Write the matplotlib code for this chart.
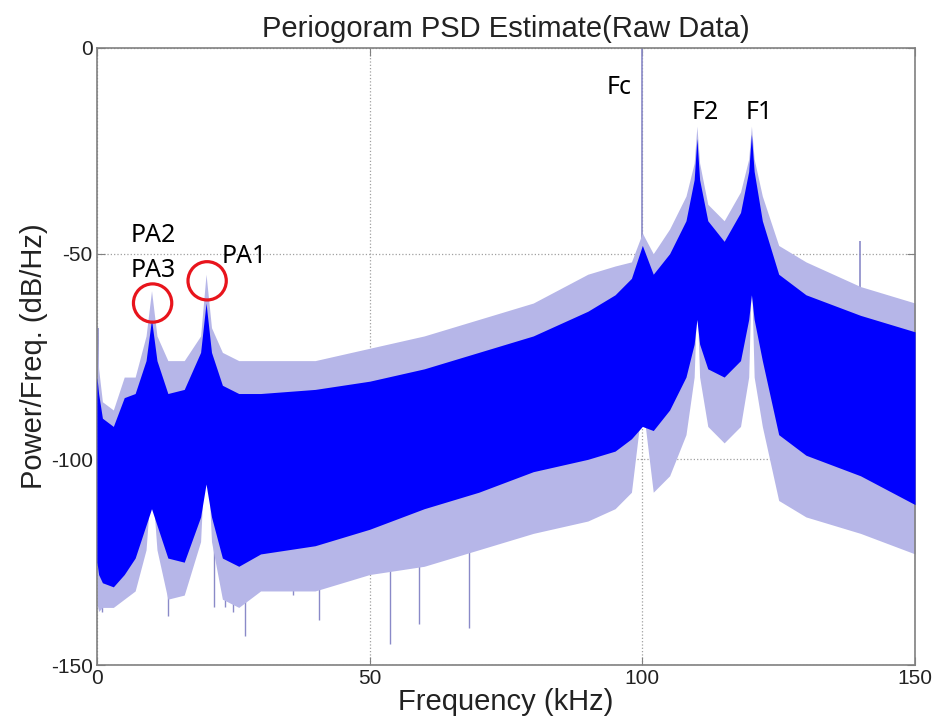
import numpy as np
from matplotlib import pyplot as plt

plt.rcParams['axes.unicode_minus'] = False

# envelope of the periodogram (kHz, dB/Hz)
freq = [0, 0.3, 1, 3, 5, 7, 9, 10, 11, 13, 16, 19, 20, 21, 23, 26, 30, 40, 50, 60,
        70, 80, 90, 95, 98, 100, 102, 105, 108, 109.5, 110, 110.5, 112, 115, 118,
        119.5, 120, 120.5, 122, 125, 130, 140, 150]
dense_hi = [-80, -84, -90, -92, -85, -84, -76, -66, -76, -84, -83, -74, -62, -74, -82, -84, -84, -83, -81, -78,
            -74, -70, -64, -60, -56, -48, -55, -50, -42, -32, -22, -32, -42, -47, -40,
            -30, -21, -30, -42, -55, -60, -65, -69]
dense_lo = [-125, -128, -130, -131, -128, -124, -116, -112, -116, -124, -125, -114, -106, -114, -124, -126, -123, -121, -117, -112,
            -108, -103, -100, -98, -95, -92, -93, -88, -80, -72, -66, -72, -78, -80, -76,
            -66, -60, -66, -76, -94, -99, -104, -111]
spike_hi = [-68, -78, -86, -88, -80, -80, -70, -59, -70, -76, -76, -70, -55, -68, -74, -76, -76, -76, -73, -70,
            -66, -62, -55, -53, -52, -45, -50, -44, -36, -28, -19, -28, -38, -42, -35,
            -27, -19, -27, -36, -48, -52, -58, -62]
spike_lo = [-135, -137, -136, -136, -134, -132, -122, -104, -122, -134, -133, -120, -92, -120, -134, -136, -132, -132, -128, -126,
            -122, -118, -115, -112, -108, -86, -108, -104, -94, -80, -60, -80, -92, -96, -92,
            -80, -55, -80, -92, -110, -114, -118, -123]

# single deep / tall lines
down_f = [0.9, 13, 21.5, 23.4, 25, 27.2, 36, 40.7, 53.8, 59, 68.3]
down_db = [-137, -138, -136, -136, -137, -143, -133, -139, -145, -140, -141]
up_f = [0.1, 100, 140]
up_db = [-68, 0, -47]

circ_f = [10.2, 20.2]
circ_db = [-62, -56.6]

labels = ["PA2", "PA3", "PA1", "Fc", "F2", "F1"]
lab_f = [10.3, 10.3, 27.0, 95.7, 111.5, 121.4]
lab_db = [-45.5, -54.2, -50.6, -9.5, -15.6, -15.8]

fig = plt.figure(figsize=(9.36, 7.26), dpi=100)
ax = fig.add_axes([0.1036, 0.084, 0.874, 0.8499])

ax.vlines(down_f, down_db, -110, color='#8a8ac8', lw=1.0, zorder=1)
ax.vlines(up_f, -80, up_db, color='#8a8ac8', lw=1.2, zorder=1)
ax.fill_between(freq, spike_lo, spike_hi, color='#b6b6e8', lw=0, zorder=2)
ax.fill_between(freq, dense_lo, dense_hi, color='#0000ff', lw=0, zorder=3)

ax.scatter(circ_f, circ_db, s=760, facecolors='none', edgecolors='#e8141c', linewidths=2.3, zorder=5)
for t, f, d in zip(labels, lab_f, lab_db):
    ax.text(f, d, t, ha='center', va='center', fontsize=18, family='Noto Sans', zorder=6)

ax.set_xlim(0, 150)
ax.set_ylim(-150, 0)
ax.set_xticks([0, 50, 100, 150])
ax.set_yticks([-150, -100, -50, 0])
ax.grid(True, ls=':', color='#a0a0a0', lw=0.9)
ax.set_axisbelow(True)
for s in ax.spines.values():
    s.set_color('#808080')
    s.set_linewidth(1.2)
ax.tick_params(direction='in', top=True, right=True, length=6, color='#808080',
               labelsize=15, labelcolor='#222222', pad=3)
for lab in ax.get_xticklabels() + ax.get_yticklabels():
    lab.set_family('Liberation Sans')

ax.set_title("Periogoram PSD Estimate(Raw Data)", fontsize=21, family='Liberation Sans', pad=8, color='#222222')
ax.set_xlabel("Frequency (kHz)", fontsize=21, family='Liberation Sans', labelpad=0, color='#222222')
ax.set_ylabel("Power/Freq. (dB/Hz)", fontsize=21, family='Liberation Sans', labelpad=2, color='#222222')

fig.savefig("out.png", dpi=100)
